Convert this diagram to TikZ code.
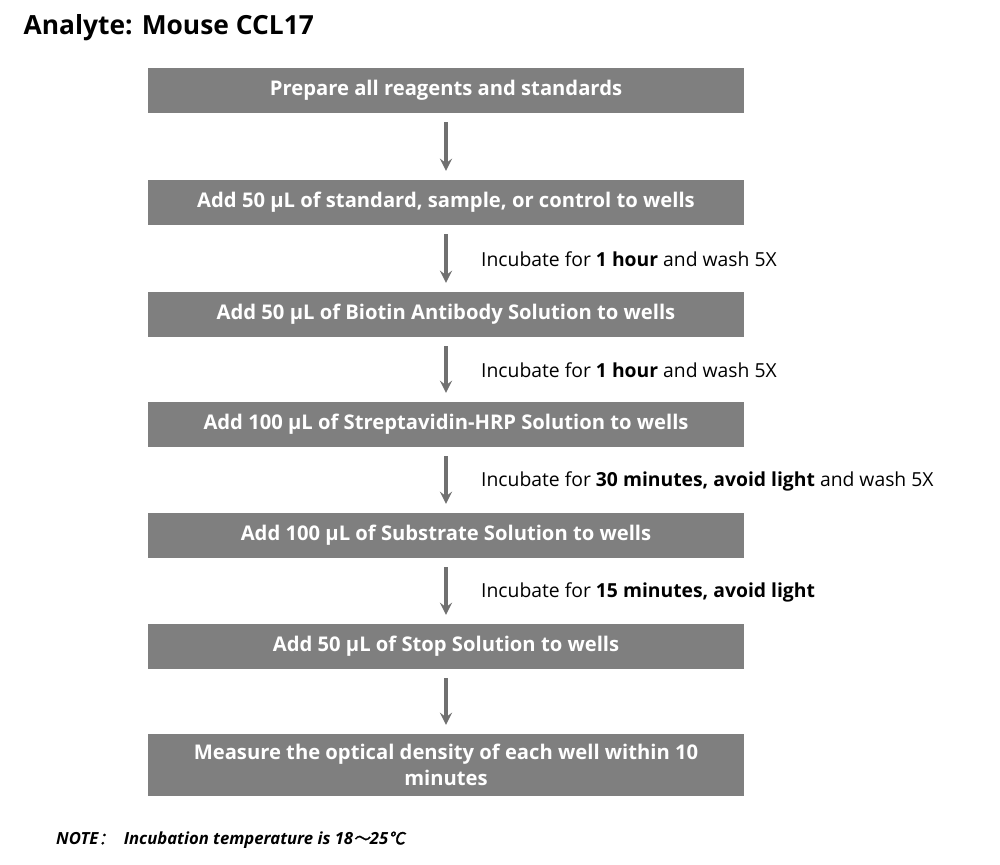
\documentclass[tikz,border=0pt]{standalone}
\usepackage{fontspec}
\setmainfont{Open Sans}
\newfontfamily\cjk[AutoFakeSlant=0.2,AutoFakeBold=1.5]{Noto Sans CJK SC}
\usetikzlibrary{positioning}
\definecolor{boxgray}{HTML}{7F7F7F}
\definecolor{arrowgray}{HTML}{707070}

\begin{document}
\begin{tikzpicture}[>=stealth,
	stage/.style={fill=boxgray, text=white, font=\bfseries\fontsize{11.5}{15}\selectfont,
		minimum width=11.92cm, minimum height=0.9cm, align=center, inner sep=0pt},
	note/.style={anchor=west, font=\fontsize{11}{14}\selectfont},
	flow/.style={->, draw=arrowgray, line width=2pt, shorten <=5pt, shorten >=5pt}]
					\useasboundingbox (0,0) rectangle (20,17.28);

					\node[anchor=west, font=\bfseries\fontsize{15}{18}\selectfont] (title) at (0.35,16.72) {Analyte: Mouse CCL17};

					\node[stage] (s1) at (8.92,15.47) {Prepare all reagents and standards};
					\node[stage] (s2) at (8.92,13.23) {Add 50 µL of standard, sample, or control to wells};
					\node[stage] (s3) at (8.92,10.99) {Add 50 µL of Biotin Antibody Solution to wells};
					\node[stage] (s4) at (8.92,8.79) {Add 100 µL of Streptavidin-HRP Solution to wells};
					\node[stage] (s5) at (8.92,6.57) {Add 100 µL of Substrate Solution to wells};
					\node[stage] (s6) at (8.92,4.35) {Add 50 µL of Stop Solution to wells};
					\node[stage, minimum height=1.24cm] (s7) at (8.92,1.98) {Measure the optical density of each well within 10\\minutes};

					\draw[flow] (s1) to (s2);
					\draw[flow] (s2) to (s3);
					\draw[flow] (s3) to (s4);
					\draw[flow] (s4) to (s5);
					\draw[flow] (s5) to (s6);
					\draw[flow] (s6) to (s7);

					\node[note] (t2) at (9.5,12.1) {Incubate for \textbf{1 hour} and wash 5X};
					\node[note] (t3) at (9.5,9.88) {Incubate for \textbf{1 hour} and wash 5X};
					\node[note] (t4) at (9.5,7.66) {Incubate for \textbf{30 minutes, avoid light} and wash 5X};
					\node[note] (t5) at (9.5,5.44) {Incubate for \textbf{15 minutes, avoid light}};

					\node[anchor=west, font=\bfseries\itshape\fontsize{9.5}{12}\selectfont] (tnote) at (1.0,0.48)
						{NOTE{\cjk ：}\ \ Incubation temperature is 18{\cjk ～}25{\cjk ℃}};

				\end{tikzpicture}
\end{document}
